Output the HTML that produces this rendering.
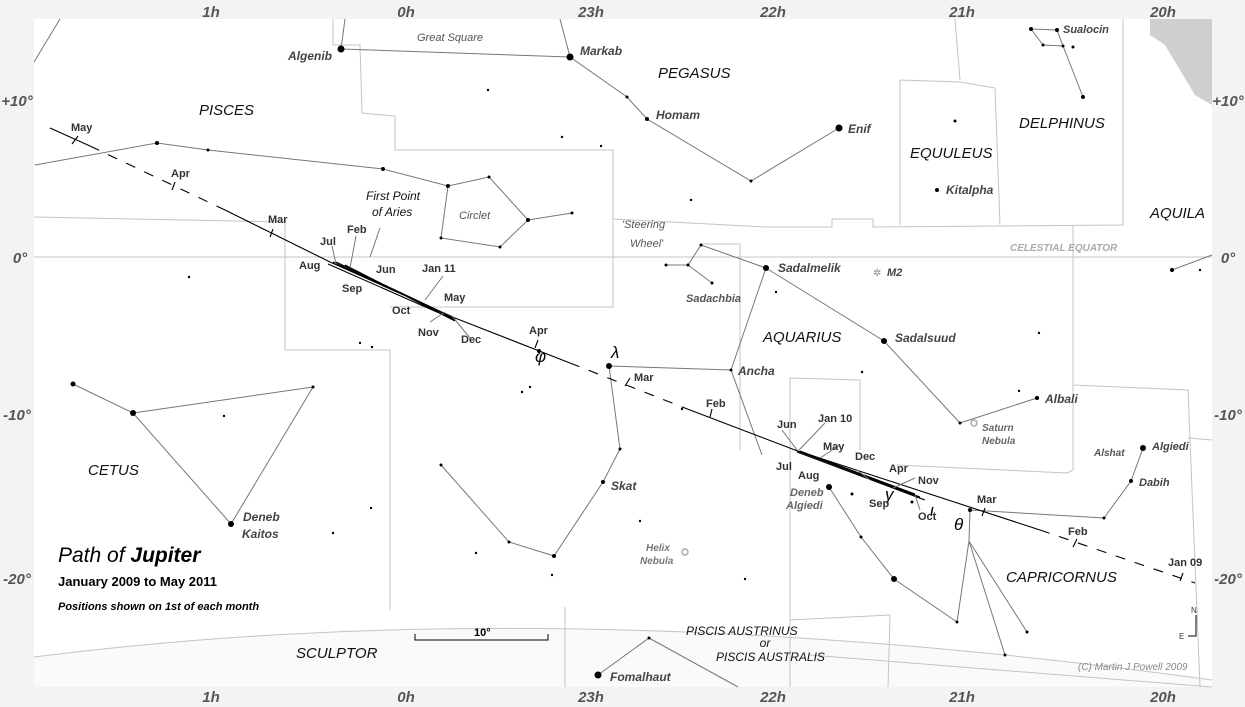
<!DOCTYPE html>
<html><head><meta charset="utf-8"><style>
html,body{margin:0;padding:0;background:#f3f3f3}
svg{display:block}
text{font-family:"Liberation Sans",sans-serif}
.ax{font-size:15px;font-weight:bold;font-style:italic;fill:#555}
.cn{font-size:15px;font-style:italic;fill:#111}
.st{font-size:12px;font-weight:bold;font-style:italic;fill:#444}
.mo{font-size:11px;font-weight:bold;fill:#333}
.gr{font-size:11px;font-style:italic;fill:#555}
</style></head><body>
<svg width="1245" height="707" viewBox="0 0 1245 707" xmlns="http://www.w3.org/2000/svg">
<rect x="0" y="0" width="1245" height="707" fill="#f3f3f3"/>
<rect x="34" y="19" width="1178" height="668" fill="#fff"/>
<path d="M34,687 L34,657 Q560,590 1212,680 L1212,687 Z" fill="#fafafa"/>
<path d="M1150,19 L1212,19 L1212,105 L1195,95 L1180,70 L1165,45 L1150,35 Z" fill="#cfcfcf"/>
<!-- boundaries -->
<g stroke="#c4c4c4" stroke-width="1" fill="none">
<line x1="34" y1="257" x2="1212" y2="257"/>
<path d="M34,217 L285,222 L285,350 L390,350 L390,610"/>
<path d="M333,19 L333,45 L360,45 L362,113 L395,116 L395,150 L613,150 L613,307 L390,307"/>
<path d="M34,657 Q560,590 1212,680"/>
<path d="M565,607 L565,687"/>
<path d="M790,620 L890,615 L888,687"/>
<path d="M810,655 L1212,687"/>
<path d="M613,219 L765,227 L832,227 L832,219 L873,219 L873,227 L1123,225 L1123,19"/>
<path d="M900,80 L960,82 L995,88 L1000,225"/>
<path d="M900,80 L900,225"/>
<path d="M955,19 L960,80"/>
<path d="M1073,225 L1073,470 L1067,473 L897,465"/>
<path d="M1073,385 L1188,390 L1200,687"/>
<path d="M1188,438 L1212,440"/>
<path d="M790,687 L790,378 L860,380 L860,450"/>
<path d="M700,244 L740,244 L740,450"/>
</g>
<!-- constellation lines -->
<g stroke="#777" stroke-width="1" fill="none">
<path d="M341,49 L570,57 L627,97 L647,119 L751,181 L839,128"/>
<path d="M341,49 L345,19"/><path d="M570,57 L560,19"/>
<path d="M60,19 L34,62"/>
<path d="M35,165 L157,143 L208,150 L383,169 L448,186 L489,177 L528,220 L572,213"/>
<path d="M448,186 L441,238 L500,247 L528,220"/>
<path d="M73,384 L133,413 L231,524 L313,387 L133,413"/>
<path d="M766,268 L701,245 L688,265 L712,283"/><path d="M666,265 L688,265"/>
<path d="M766,268 L731,370 L609,366 L620,449 L603,482 L554,556 L509,542 L441,465"/>
<path d="M731,370 L762,455"/>
<path d="M766,268 L884,341 L960,423 L1037,398"/>
<path d="M1143,448 L1131,481 L1104,518 L970,510 L969,541 L957,622"/>
<path d="M969,541 L1005,655"/><path d="M969,541 L1027,632"/>
<path d="M829,487 L861,537 L894,579 L957,622"/>
<path d="M1031,29 L1043,45 L1063,46 L1057,30 L1031,29"/>
<path d="M1063,46 L1083,97"/>
<path d="M1172,270 L1212,255"/>
<path d="M598,675 L649,638 L738,687"/>
</g>
<!-- stars -->
<g fill="#000">
<circle cx="341" cy="49" r="3.5"/><circle cx="570" cy="57" r="3.5"/><circle cx="839" cy="128" r="3.5"/>
<circle cx="647" cy="119" r="2"/><circle cx="751" cy="181" r="1.5"/><circle cx="627" cy="97" r="1.5"/>
<circle cx="157" cy="143" r="2"/><circle cx="208" cy="150" r="1.5"/><circle cx="383" cy="169" r="2"/><circle cx="448" cy="186" r="2"/><circle cx="489" cy="177" r="1.5"/><circle cx="528" cy="220" r="2"/><circle cx="572" cy="213" r="1.5"/><circle cx="441" cy="238" r="1.5"/><circle cx="500" cy="247" r="1.5"/>
<circle cx="73" cy="384" r="2.5"/><circle cx="133" cy="413" r="3"/><circle cx="231" cy="524" r="3"/><circle cx="313" cy="387" r="1.5"/>
<circle cx="766" cy="268" r="3"/><circle cx="701" cy="245" r="1.5"/><circle cx="688" cy="265" r="1.5"/><circle cx="666" cy="265" r="1.5"/><circle cx="712" cy="283" r="1.5"/>
<circle cx="731" cy="370" r="1.5"/><circle cx="609" cy="366" r="3"/><circle cx="620" cy="449" r="1.5"/><circle cx="603" cy="482" r="2"/><circle cx="554" cy="556" r="2"/><circle cx="509" cy="542" r="1.5"/><circle cx="441" cy="465" r="1.5"/>
<circle cx="884" cy="341" r="3"/><circle cx="960" cy="423" r="1.5"/><circle cx="1037" cy="398" r="2"/>
<circle cx="1143" cy="448" r="3"/><circle cx="1131" cy="481" r="2"/><circle cx="1104" cy="518" r="1.5"/><circle cx="970" cy="510" r="2"/><circle cx="957" cy="622" r="1.5"/><circle cx="1005" cy="655" r="1.5"/><circle cx="1027" cy="632" r="1.5"/>
<circle cx="829" cy="487" r="3"/><circle cx="861" cy="537" r="1.5"/><circle cx="894" cy="579" r="3"/><circle cx="852" cy="494" r="1.5"/><circle cx="912" cy="502" r="1.5"/>
<circle cx="1031" cy="29" r="2"/><circle cx="1043" cy="45" r="1.5"/><circle cx="1057" cy="30" r="2"/><circle cx="1063" cy="46" r="1.5"/><circle cx="1073" cy="47" r="1.5"/><circle cx="1083" cy="97" r="2"/>
<circle cx="937" cy="190" r="2"/><circle cx="955" cy="121" r="1.5"/><circle cx="1172" cy="270" r="2"/>
<circle cx="598" cy="675" r="3.5"/><circle cx="649" cy="638" r="1.5"/>
<circle cx="488" cy="90" r="1.2"/><circle cx="562" cy="137" r="1.2"/><circle cx="601" cy="146" r="1.2"/><circle cx="691" cy="200" r="1.2"/><circle cx="189" cy="277" r="1.2"/><circle cx="360" cy="343" r="1.2"/><circle cx="372" cy="347" r="1.2"/><circle cx="530" cy="387" r="1.2"/><circle cx="522" cy="392" r="1.2"/><circle cx="224" cy="416" r="1.2"/><circle cx="371" cy="508" r="1.2"/><circle cx="333" cy="533" r="1.2"/><circle cx="476" cy="553" r="1.2"/><circle cx="552" cy="575" r="1.2"/><circle cx="640" cy="521" r="1.2"/><circle cx="776" cy="292" r="1.2"/><circle cx="862" cy="372" r="1.2"/><circle cx="1019" cy="391" r="1.2"/><circle cx="1039" cy="333" r="1.2"/><circle cx="745" cy="579" r="1.2"/><circle cx="1200" cy="270" r="1.2"/><circle cx="539" cy="351" r="2"/><circle cx="682" cy="409" r="1.2"/>
</g>
<circle cx="974" cy="423" r="3" fill="none" stroke="#aaa" stroke-width="1.5"/>
<circle cx="685" cy="552" r="3" fill="none" stroke="#aaa" stroke-width="1.5"/>
<text x="873" y="276" font-size="10" fill="#888">✲</text>
<!-- Jupiter path -->
<g stroke="#000" stroke-width="1.1" fill="none">
<line x1="50" y1="128" x2="90" y2="146"/>
<line x1="90" y1="146" x2="225" y2="210" stroke-dasharray="10,10"/>
<line x1="225" y1="210" x2="330" y2="262"/>
<path d="M330,262 L455,318 M328,264 L455,320 M336,262 L450,316 M345,265 L455,321 M333,262 L455,319"/>
<line x1="455" y1="318" x2="570" y2="363"/>
<line x1="570" y1="363" x2="690" y2="410" stroke-dasharray="10,10"/>
<line x1="690" y1="410" x2="795" y2="450"/>
<path d="M795,450 L920,497 M797,452 L922,499 M800,451 L915,494 M805,455 L925,500"/>
<line x1="795" y1="450" x2="1040" y2="530"/>
<line x1="1040" y1="530" x2="1195" y2="583" stroke-dasharray="10,10"/>
<path d="M72,144 l6,-8 M172,190 l3,-8 M270,237 l3,-8 M535,348 l3,-8 M625,386 l5,-8 M710,417 l2,-8 M982,516 l3,-8 M1073,547 l4,-8 M1180,581 l3,-8"/>
</g>
<g stroke="#777" stroke-width="1" fill="none">
<path d="M336,264 L332,246 M350,268 L356,236 M370,257 L380,228 M425,300 L443,276 M445,312 L430,322 M452,316 L470,338"/>
<path d="M797,450 L782,430 M799,450 L825,423 M820,458 L840,445 M857,470 L870,480 M893,488 L915,478 M915,495 L920,510"/>
</g>
<!-- labels -->
<g class="ax" text-anchor="middle">
<text x="211" y="17">1h</text><text x="406" y="17">0h</text><text x="591" y="17">23h</text><text x="773" y="17">22h</text><text x="962" y="17">21h</text><text x="1163" y="17">20h</text>
<text x="211" y="702">1h</text><text x="406" y="702">0h</text><text x="591" y="702">23h</text><text x="773" y="702">22h</text><text x="962" y="702">21h</text><text x="1163" y="702">20h</text>
<text x="17" y="106">+10°</text><text x="20" y="263">0°</text><text x="17" y="420">-10°</text><text x="17" y="584">-20°</text>
<text x="1228" y="106">+10°</text><text x="1228" y="263">0°</text><text x="1228" y="420">-10°</text><text x="1228" y="584">-20°</text>
</g>
<g class="cn">
<text x="199" y="115">PISCES</text><text x="658" y="78">PEGASUS</text><text x="910" y="158">EQUULEUS</text><text x="1019" y="128">DELPHINUS</text><text x="1150" y="218">AQUILA</text><text x="763" y="342">AQUARIUS</text><text x="88" y="475">CETUS</text><text x="1006" y="582">CAPRICORNUS</text><text x="296" y="658">SCULPTOR</text>
<text x="686" y="635" font-size="12">PISCIS AUSTRINUS</text><text x="765" y="647" font-size="12" text-anchor="middle">or</text><text x="716" y="661" font-size="12">PISCIS AUSTRALIS</text>
<text x="366" y="200" font-size="12">First Point</text><text x="372" y="216" font-size="12">of Aries</text>
</g>
<g class="gr" font-size="14">
<text x="417" y="41">Great Square</text><text x="459" y="219">Circlet</text><text x="622" y="228">'Steering</text><text x="630" y="247">Wheel'</text>
</g>
<text x="1010" y="251" font-size="10" font-weight="bold" font-style="italic" fill="#aaa">CELESTIAL EQUATOR</text>
<g class="st">
<text x="288" y="60">Algenib</text><text x="580" y="55">Markab</text><text x="656" y="119">Homam</text><text x="848" y="133">Enif</text><text x="946" y="194">Kitalpha</text><text x="1063" y="33" font-size="11">Sualocin</text>
<text x="778" y="272">Sadalmelik</text><text x="887" y="276" font-size="11">M2</text><text x="686" y="302" font-size="11" fill="#555">Sadachbia</text><text x="895" y="342">Sadalsuud</text><text x="738" y="375">Ancha</text><text x="1045" y="403">Albali</text>
<text x="982" y="431" font-size="10" fill="#666">Saturn</text><text x="982" y="444" font-size="10" fill="#666">Nebula</text>
<text x="1152" y="450" font-size="11">Algiedi</text><text x="1094" y="456" font-size="10" fill="#555">Alshat</text><text x="1139" y="486" font-size="11">Dabih</text>
<text x="611" y="490">Skat</text><text x="790" y="496" font-size="11" fill="#666">Deneb</text><text x="786" y="509" font-size="11" fill="#666">Algiedi</text>
<text x="646" y="551" font-size="10" fill="#777">Helix</text><text x="640" y="564" font-size="10" fill="#777">Nebula</text>
<text x="243" y="521">Deneb</text><text x="242" y="538">Kaitos</text><text x="610" y="681">Fomalhaut</text>
</g>
<g font-family="Liberation Serif,serif" font-style="italic" font-size="17" fill="#000">
<text x="535" y="362">φ</text><text x="611" y="358">λ</text><text x="885" y="500">γ</text><text x="930" y="516">ι</text><text x="954" y="530">θ</text>
</g>
<g class="mo">
<text x="71" y="131">May</text><text x="171" y="177">Apr</text><text x="268" y="223">Mar</text><text x="320" y="245">Jul</text><text x="347" y="233">Feb</text><text x="299" y="269">Aug</text><text x="376" y="273">Jun</text><text x="422" y="272">Jan 11</text><text x="342" y="292">Sep</text><text x="444" y="301">May</text><text x="392" y="314">Oct</text><text x="418" y="336">Nov</text><text x="461" y="343">Dec</text><text x="529" y="334">Apr</text><text x="634" y="381">Mar</text><text x="706" y="407">Feb</text>
<text x="777" y="428">Jun</text><text x="818" y="422">Jan 10</text><text x="823" y="450">May</text><text x="855" y="460">Dec</text><text x="776" y="470">Jul</text><text x="798" y="479">Aug</text><text x="889" y="472">Apr</text><text x="918" y="484">Nov</text><text x="869" y="507">Sep</text><text x="918" y="520">Oct</text><text x="977" y="503">Mar</text><text x="1068" y="535">Feb</text><text x="1168" y="566">Jan 09</text>
</g>
<text x="58" y="562" font-size="21" font-style="italic" fill="#000">Path of <tspan font-weight="bold">Jupiter</tspan></text>
<text x="58" y="586" font-size="13" font-weight="bold" fill="#000">January 2009 to May 2011</text>
<text x="58" y="610" font-size="11" font-weight="bold" font-style="italic" fill="#000">Positions shown on 1st of each month</text>
<g stroke="#000" fill="none"><path d="M415,634 L415,640 L548,640 L548,634"/><path d="M1196,615 L1196,636 L1188,636"/></g>
<text x="474" y="636" font-size="11" font-weight="bold">10°</text>
<text x="1191" y="613" font-size="8" fill="#333">N</text><text x="1179" y="639" font-size="8" fill="#333">E</text>
<text x="1078" y="670" font-size="10" font-style="italic" fill="#888">(C) Martin J Powell  2009</text>
</svg>
</body></html>
